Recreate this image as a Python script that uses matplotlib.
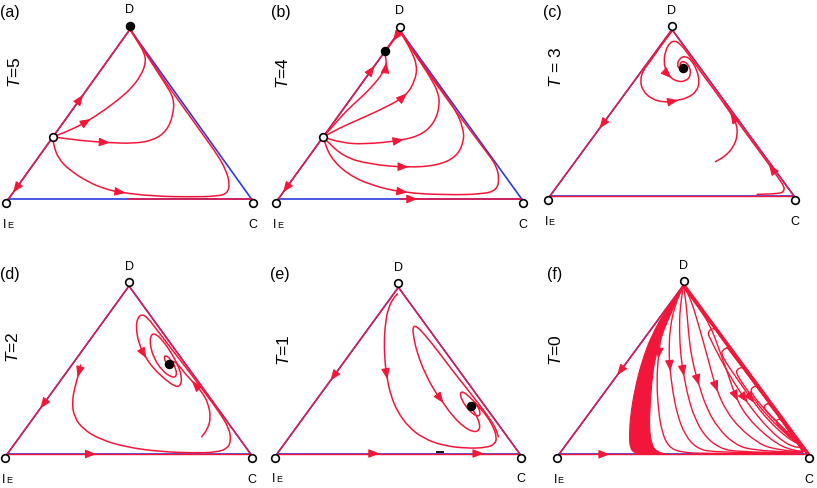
import numpy as np
import matplotlib.pyplot as plt
from matplotlib.path import Path
from matplotlib.patches import PathPatch

plt.rcParams['font.family'] = 'Liberation Sans'
plt.rcParams['mathtext.fontset'] = 'custom'
plt.rcParams['mathtext.rm'] = 'Liberation Sans'
plt.rcParams['mathtext.it'] = 'Liberation Sans:italic'

RED = '#f2173a'
BLUE = '#2b3be0'

# ---------------------------------------------------------------
# data, in the simplex frame: I_E = (0, 0), C = (1, 0), D = (0.5, 1)
# ---------------------------------------------------------------
T_VALUES = ['$T$=5', '$T$=4', '$T$ = 3', '$T$=2', '$T$=1', '$T$=0']
PANEL_TAGS = ['(a)', '(b)', '(c)', '(d)', '(e)', '(f)']

# (a) T = 5
A_SADDLE = [(0.183, 0.367)]
A_STABLE = [(0.5, 1.0)]
A_CURVES = [
    [(0.183, 0.367), (0.26, 0.41), (0.33, 0.463), (0.40, 0.53), (0.46, 0.595),
     (0.51, 0.66), (0.545, 0.73), (0.565, 0.80), (0.56, 0.86), (0.53, 0.93),
     (0.5, 1.0)],
    [(0.183, 0.367), (0.308, 0.344), (0.404, 0.334), (0.514, 0.328),
     (0.596, 0.347), (0.651, 0.402), (0.678, 0.498), (0.681, 0.595),
     (0.64, 0.69), (0.59, 0.80), (0.55, 0.89), (0.5, 1.0)],
    [(0.183, 0.367), (0.186, 0.32), (0.205, 0.24), (0.253, 0.17), (0.33, 0.10),
     (0.40, 0.06), (0.46, 0.04), (0.60, 0.018), (0.75, 0.014), (0.86, 0.018),
     (0.9, 0.035), (0.91, 0.09), (0.895, 0.17), (0.86, 0.26), (0.8, 0.38),
     (0.73, 0.52), (0.65, 0.68), (0.58, 0.83), (0.5, 1.0)],
]
A_ARROWS = [(0, 2), (1, 2), (2, 6)]

# (b) T = 4
B_SADDLE = [(0.184, 0.367)]
B_STABLE = [(0.438, 0.876)]
B_CURVES = [
    [(0.184, 0.367), (0.235, 0.45), (0.281, 0.525), (0.33, 0.59),
     (0.377, 0.653), (0.432, 0.75), (0.445, 0.80), (0.44, 0.85)],
    [(0.184, 0.367), (0.25, 0.42), (0.322, 0.466), (0.445, 0.546),
     (0.527, 0.615), (0.562, 0.703), (0.571, 0.79), (0.545, 0.885),
     (0.512, 0.965), (0.5, 1.0)],
    [(0.184, 0.367), (0.26, 0.335), (0.349, 0.324), (0.514, 0.348),
     (0.596, 0.387), (0.644, 0.46), (0.664, 0.56), (0.655, 0.64),
     (0.625, 0.72), (0.59, 0.80), (0.55, 0.885), (0.5, 1.0)],
    [(0.184, 0.367), (0.267, 0.25), (0.377, 0.206), (0.527, 0.187),
     (0.651, 0.198), (0.733, 0.25), (0.764, 0.348), (0.758, 0.426),
     (0.733, 0.515), (0.692, 0.603), (0.637, 0.715), (0.58, 0.83), (0.5, 1.0)],
    [(0.184, 0.367), (0.212, 0.25), (0.281, 0.151), (0.377, 0.083),
     (0.514, 0.037), (0.692, 0.024), (0.842, 0.029), (0.897, 0.053),
     (0.908, 0.12), (0.895, 0.2), (0.86, 0.27), (0.8, 0.385), (0.72, 0.54),
     (0.64, 0.70), (0.57, 0.84), (0.5, 1.0)],
    [(0.5, 1.0), (0.478, 0.95), (0.445, 0.885)],
]
B_ARROWS = [(0, 6), (1, 4), (2, 3), (3, 3), (4, 4), (5, 1)]

# (c) T = 3
C_STABLE = [(0.545, 0.771)]
C_CURVES = [
    [(0.504, 0.997), (0.452, 0.897), (0.41, 0.807), (0.381, 0.753),
     (0.370, 0.697), (0.378, 0.637), (0.413, 0.585), (0.465, 0.562),
     (0.513, 0.571), (0.568, 0.591), (0.602, 0.631), (0.613, 0.687),
     (0.602, 0.757), (0.579, 0.817), (0.554, 0.841), (0.531, 0.827),
     (0.520, 0.787), (0.534, 0.757), (0.545, 0.771)],
    [(0.678, 0.206), (0.719, 0.240), (0.753, 0.296), (0.769, 0.366),
     (0.764, 0.436), (0.746, 0.486), (0.712, 0.557), (0.673, 0.637),
     (0.632, 0.717), (0.593, 0.797), (0.559, 0.867), (0.534, 0.913),
     (0.513, 0.933), (0.490, 0.921), (0.472, 0.867), (0.467, 0.807),
     (0.474, 0.753), (0.489, 0.717), (0.520, 0.687), (0.558, 0.689),
     (0.578, 0.727), (0.572, 0.777), (0.554, 0.807), (0.537, 0.807),
     (0.531, 0.781), (0.545, 0.771)],
    [(0.849, 0.010), (0.938, 0.014), (0.958, 0.026), (0.961, 0.056),
     (0.932, 0.116), (0.904, 0.176), (0.864, 0.256), (0.824, 0.336),
     (0.784, 0.416), (0.749, 0.486), (0.712, 0.56)],
]
C_ARROWS = [(0, 8), (1, 5), (1, 17), (2, 5)]

# (d) T = 2
D_STABLE = [(0.666, 0.536)]
D_CURVES = [
    [(0.301, 0.530), (0.292, 0.470), (0.278, 0.401), (0.266, 0.311),
     (0.274, 0.222), (0.312, 0.147), (0.381, 0.087), (0.491, 0.040),
     (0.628, 0.014), (0.765, 0.006), (0.860, 0.010), (0.906, 0.034),
     (0.919, 0.083), (0.911, 0.153), (0.874, 0.242), (0.819, 0.351),
     (0.765, 0.456), (0.710, 0.559), (0.655, 0.663), (0.607, 0.754),
     (0.575, 0.813), (0.552, 0.833), (0.534, 0.807), (0.529, 0.748),
     (0.540, 0.659), (0.566, 0.579), (0.600, 0.510), (0.648, 0.444),
     (0.689, 0.401), (0.712, 0.405), (0.717, 0.456), (0.703, 0.524),
     (0.675, 0.599), (0.638, 0.678), (0.607, 0.718), (0.589, 0.708),
     (0.586, 0.649), (0.603, 0.569), (0.634, 0.500), (0.673, 0.456),
     (0.696, 0.460), (0.693, 0.510), (0.669, 0.569), (0.648, 0.589),
     (0.644, 0.569), (0.658, 0.530), (0.666, 0.536)],
    [(0.799, 0.103), (0.822, 0.147), (0.836, 0.212), (0.826, 0.301),
     (0.799, 0.371), (0.765, 0.424), (0.730, 0.480), (0.703, 0.530),
     (0.682, 0.555), (0.669, 0.549), (0.666, 0.536)],
]
D_ARROWS = [(0, 1), (0, 25), (1, 5)]

# (e) T = 1
E_STABLE = [(0.798, 0.286)]
E_CURVES = [
    [(0.4956, 0.960), (0.479, 0.934), (0.458, 0.873), (0.446, 0.783),
     (0.441, 0.663), (0.445, 0.542), (0.452, 0.462), (0.468, 0.352),
     (0.496, 0.252), (0.541, 0.161), (0.603, 0.091), (0.686, 0.047),
     (0.782, 0.031), (0.864, 0.035), (0.899, 0.057), (0.906, 0.097),
     (0.892, 0.161), (0.862, 0.232), (0.826, 0.292), (0.796, 0.338),
     (0.768, 0.372), (0.754, 0.366), (0.761, 0.322), (0.789, 0.262),
     (0.823, 0.222), (0.840, 0.232), (0.830, 0.282), (0.809, 0.312),
     (0.798, 0.286)],
    [(0.913, 0.101), (0.899, 0.161), (0.871, 0.222), (0.830, 0.302),
     (0.782, 0.392), (0.727, 0.492), (0.665, 0.613), (0.610, 0.713),
     (0.575, 0.767), (0.559, 0.763), (0.562, 0.703), (0.578, 0.603),
     (0.610, 0.482), (0.651, 0.372), (0.679, 0.318), (0.720, 0.232),
     (0.768, 0.161), (0.809, 0.129), (0.834, 0.137), (0.837, 0.181),
     (0.816, 0.242), (0.802, 0.278), (0.798, 0.286)],
]
E_ARROWS = [(0, 6), (1, 14)]
E_DASH = [(0.661, 0.007), (0.686, 0.007)]

# (f) T = 0
F_BAND_LEFT = [(0.5, 1.0), (0.432, 0.862), (0.372, 0.705), (0.332, 0.547),
               (0.305, 0.390), (0.287, 0.232), (0.282, 0.114), (0.285, 0.035),
               (0.305, 0.006), (0.338, 0.0)]
F_BAND_RIGHT = [(0.5, 1.0), (0.452, 0.842), (0.412, 0.705), (0.385, 0.567),
                (0.372, 0.429), (0.365, 0.271), (0.362, 0.153), (0.372, 0.055),
                (0.392, 0.015), (0.432, 0.0)]
F_CURVES = [
    [(0.5, 1.0), (0.445, 0.862), (0.412, 0.724), (0.398, 0.577), (0.392, 0.429),
     (0.398, 0.271), (0.412, 0.134), (0.439, 0.045), (0.485, 0.012),
     (0.592, 0.004), (0.97, 0.004), (0.985, 0.02), (0.5, 0.995)],
    [(0.5, 1.0), (0.465, 0.882), (0.445, 0.744), (0.441, 0.606), (0.445, 0.508),
     (0.456, 0.370), (0.475, 0.232), (0.505, 0.114), (0.552, 0.035),
     (0.619, 0.012), (0.97, 0.006), (0.985, 0.02), (0.5, 0.995)],
    [(0.5, 1.0), (0.485, 0.862), (0.483, 0.724), (0.488, 0.586), (0.499, 0.478),
     (0.519, 0.330), (0.545, 0.212), (0.586, 0.104), (0.646, 0.035),
     (0.713, 0.015), (0.97, 0.008), (0.985, 0.02), (0.5, 0.995)],
    [(0.5, 1.0), (0.512, 0.862), (0.519, 0.724), (0.532, 0.567), (0.559, 0.419),
     (0.592, 0.271), (0.639, 0.153), (0.699, 0.065), (0.766, 0.025),
     (0.97, 0.01), (0.985, 0.02), (0.5, 0.995)],
    [(0.5, 1.0), (0.532, 0.901), (0.552, 0.803), (0.579, 0.665), (0.606, 0.518),
     (0.632, 0.380), (0.672, 0.252), (0.726, 0.153), (0.793, 0.074),
     (0.846, 0.035), (0.97, 0.012), (0.985, 0.022), (0.5, 0.995)],
    [(0.5, 1.0), (0.53, 0.925), (0.562, 0.862), (0.606, 0.764), (0.646, 0.606),
     (0.679, 0.468), (0.713, 0.321), (0.759, 0.212), (0.820, 0.124),
     (0.873, 0.065), (0.913, 0.035), (0.97, 0.015), (0.985, 0.025),
     (0.5, 0.995)],
    [(0.625, 0.745), (0.603, 0.735), (0.598, 0.71), (0.606, 0.685),
     (0.646, 0.567), (0.699, 0.429), (0.753, 0.311), (0.793, 0.232),
     (0.846, 0.143), (0.900, 0.074), (0.940, 0.045), (0.968, 0.04),
     (0.975, 0.045), (0.625, 0.745)],
    [(0.675, 0.63), (0.655, 0.615), (0.652, 0.59), (0.675, 0.53),
     (0.713, 0.449), (0.779, 0.311), (0.833, 0.212), (0.886, 0.134),
     (0.940, 0.074), (0.966, 0.06), (0.975, 0.045), (0.675, 0.63)],
    [(0.735, 0.515), (0.712, 0.5), (0.712, 0.475), (0.74, 0.41), (0.779, 0.330),
     (0.833, 0.232), (0.893, 0.143), (0.940, 0.084), (0.962, 0.07),
     (0.975, 0.048), (0.735, 0.515)],
    [(0.79, 0.405), (0.77, 0.39), (0.772, 0.36), (0.81, 0.29), (0.86, 0.212),
     (0.913, 0.134), (0.953, 0.074), (0.966, 0.062), (0.975, 0.048),
     (0.79, 0.405)],
    [(0.84, 0.3), (0.822, 0.29), (0.826, 0.26), (0.873, 0.193), (0.927, 0.114),
     (0.96, 0.065), (0.975, 0.048), (0.84, 0.3)],
    [(0.886, 0.21), (0.87, 0.2), (0.875, 0.175), (0.905, 0.135), (0.94, 0.09),
     (0.962, 0.06), (0.975, 0.048), (0.886, 0.21)],
    [(0.922, 0.14), (0.91, 0.13), (0.918, 0.11), (0.945, 0.08), (0.962, 0.06),
     (0.975, 0.048), (0.922, 0.14)],
]
F_ARROWS = [(0, 3), (1, 4), (2, 4), (3, 4), (4, 5), (5, 6), (6, 6), (7, 5)]

# arrows sitting on the edges: (edge, fraction along it, +1 forward / -1 back)
A_EDGE_ARROWS = [('left', 0.604, 1), ('left', 0.05, -1)]
B_EDGE_ARROWS = [('left', 0.78, 1), ('left', 0.05, -1), ('bottom', 0.56, 1)]
C_EDGE_ARROWS = [('left', 0.416, -1)]
D_EDGE_ARROWS = [('left', 0.282, -1), ('bottom', 0.353, 1)]
E_EDGE_ARROWS = [('left', 0.45, -1), ('bottom', 0.41, 1), ('bottom', 0.84, 1)]
F_EDGE_ARROWS = [('left', 0.478, -1), ('bottom', 0.191, 1)]

# ---------------------------------------------------------------
V = {'IE': np.array([0.0, 0.0]), 'C': np.array([1.0, 0.0]),
     'D': np.array([0.5, 1.0])}
EDGES = {'left': ('IE', 'D'), 'bottom': ('IE', 'C'), 'right': ('C', 'D')}

FW, FH = 817, 488

# pixel placement of each simplex: I_E corner, width, height
PANELS = [
    dict(ie=(8.3, 199.3), w=243.4, h=170.0, curves=A_CURVES, arrows=A_ARROWS,
         earrows=A_EDGE_ARROWS, stable=A_STABLE, saddle=A_SADDLE,
         tag_xy=(0, 12), t_xy=(15.5, 72), open_d=False, style='ab',
         red_bottom=0.49),
    dict(ie=(278.3, 199.0), w=243.4, h=168.5, curves=B_CURVES, arrows=B_ARROWS,
         earrows=B_EDGE_ARROWS, stable=B_STABLE, saddle=B_SADDLE,
         tag_xy=(271, 12), t_xy=(282.5, 73), open_d=True, style='ab',
         red_bottom=0.5),
    dict(ie=(550.0, 196.0), w=244.0, h=166.5, curves=C_CURVES, arrows=C_ARROWS,
         earrows=C_EDGE_ARROWS, stable=C_STABLE, saddle=[],
         tag_xy=(543, 12), t_xy=(556, 67), open_d=True, style='red'),
    dict(ie=(7.3, 454.0), w=243.4, h=168.0, curves=D_CURVES, arrows=D_ARROWS,
         earrows=D_EDGE_ARROWS, stable=D_STABLE, saddle=[],
         tag_xy=(0, 275), t_xy=(12.5, 347), open_d=True, style='red'),
    dict(ie=(277.3, 453.5), w=242.2, h=166.2, curves=E_CURVES, arrows=E_ARROWS,
         earrows=E_EDGE_ARROWS, stable=E_STABLE, saddle=[],
         tag_xy=(270, 275), t_xy=(284, 350), open_d=True, style='red'),
    dict(ie=(559.0, 454.3), w=249.3, h=169.3, curves=F_CURVES, arrows=F_ARROWS,
         earrows=F_EDGE_ARROWS, stable=[], saddle=[],
         tag_xy=(547, 275), t_xy=(556, 350), open_d=True, style='red'),
]


def bspline(pts):
    """quadratic B-spline path using the read points as control points"""
    p = np.asarray(pts, float)
    verts = [p[0], (p[0] + p[1]) / 2]
    codes = [Path.MOVETO, Path.LINETO]
    for i in range(1, len(p) - 1):
        verts += [p[i], (p[i] + p[i + 1]) / 2]
        codes += [Path.CURVE3, Path.CURVE3]
    verts.append(p[-1])
    codes.append(Path.LINETO)
    return verts, codes


def draw_curve(ax, pts, lw=1.1):
    verts, codes = bspline(pts)
    ax.add_patch(PathPatch(Path(verts, codes), fill=False, ec=RED, lw=lw,
                           clip_on=False, capstyle='round', joinstyle='round',
                           zorder=3))


def draw_arrow(ax, pos, d):
    d = np.asarray(d, float)
    d = d / np.hypot(*d)
    pos = np.asarray(pos, float)
    ax.annotate('', xy=pos + 0.012 * d, xytext=pos - 0.012 * d,
                arrowprops=dict(arrowstyle='-|>,head_length=0.55,head_width=0.22',
                                color=RED, lw=0.8, shrinkA=0, shrinkB=0,
                                mutation_scale=12),
                annotation_clip=False, zorder=4)


def line(ax, a, b, color, lw=1.1, z=2):
    ax.plot([a[0], b[0]], [a[1], b[1]], color=color, lw=lw, clip_on=False,
            solid_capstyle='round', zorder=z)


fig = plt.figure(figsize=(FW / 100, FH / 100), dpi=100)

for k, p in enumerate(PANELS):
    x0, y0 = p['ie']
    w, h = p['w'], p['h']
    ax = fig.add_axes([x0 / FW, 1 - y0 / FH, w / FW, h / FH])
    ax.set_xlim(0, 1)
    ax.set_ylim(0, 1)
    ax.axis('off')

    # simplex edges
    for a, b in EDGES.values():
        line(ax, V[a], V[b], BLUE, lw=1.2)
    if p['style'] == 'ab':
        line(ax, V['IE'], V['D'], RED)
        line(ax, (p['red_bottom'], 0), V['C'], RED)
    else:
        for a, b in EDGES.values():
            line(ax, V[a], V[b], RED, lw=1.0)
    if k == 5:
        line(ax, V['C'], V['D'], RED, lw=2.6)

    # dense band of orbits in (f)
    if k == 5:
        lv, lc = bspline(F_BAND_LEFT)
        rv, rc = bspline(F_BAND_RIGHT[::-1])
        rc[0] = Path.LINETO
        band = Path(lv + rv + [lv[0]], lc + rc + [Path.CLOSEPOLY])
        ax.add_patch(PathPatch(band, fc=RED, ec=RED, lw=0.8, clip_on=False,
                               zorder=3))

    # trajectories
    for pts in p['curves']:
        draw_curve(ax, pts, lw=1.0 if k == 5 else 1.1)
    for ci, pi in p['arrows']:
        c = np.asarray(p['curves'][ci], float)
        pos = 0.75 * c[pi] + 0.125 * (c[pi - 1] + c[pi + 1])
        draw_arrow(ax, pos, c[pi + 1] - c[pi - 1])
    for edge, t, sgn in p['earrows']:
        a, b = V[EDGES[edge][0]], V[EDGES[edge][1]]
        draw_arrow(ax, a + t * (b - a), sgn * (b - a))
    if k == 4:
        ax.plot(*zip(*E_DASH), color='black', lw=1.3, clip_on=False, zorder=4)

    # vertex markers, slightly pushed outwards
    mk = dict(marker='o', ms=5.5, mfc='white', mec='black', mew=1.2,
              ls='none', clip_on=False, zorder=6)
    ax.plot(0 - 2 / w, 0 - 4 / h, **mk)
    ax.plot(1 + 1 / w, 0 - 4 / h, **mk)
    if p['open_d']:
        ax.plot(0.5, 1 + 4 / h, **mk)
    for sx, sy in p['saddle']:
        ax.plot(sx, sy, **mk)
    for sx, sy in p['stable']:
        if (sx, sy) == (0.5, 1.0):
            sy = sy + 3 / h
        ax.plot(sx, sy, 'o', ms=5.8, color='black', clip_on=False, zorder=7)

    # vertex labels
    ax.annotate('D', xy=(0.5, 1), xytext=(0, 19), textcoords='offset pixels',
                ha='center', va='center', fontsize=9, annotation_clip=False)
    ax.annotate('C', xy=(1, 0), xytext=(1, -29), textcoords='offset pixels',
                ha='center', va='baseline', fontsize=9, annotation_clip=False)
    ax.annotate('I', xy=(0, 0), xytext=(-5, -29), textcoords='offset pixels',
                ha='left', va='baseline', fontsize=9, annotation_clip=False)
    ax.annotate('E', xy=(0, 0), xytext=(-1.3, -29), textcoords='offset pixels',
                ha='left', va='baseline', fontsize=6.5, annotation_clip=False)

    # panel tag and T value
    tx, ty = p['tag_xy']
    fig.text(tx / FW, 1 - ty / FH, PANEL_TAGS[k], ha='left', va='center',
             fontsize=11.5)
    tx, ty = p['t_xy']
    fig.text(tx / FW, 1 - ty / FH, T_VALUES[k], ha='center', va='center',
             rotation=90, fontsize=12.5)

fig.savefig('out.png', dpi=100)
